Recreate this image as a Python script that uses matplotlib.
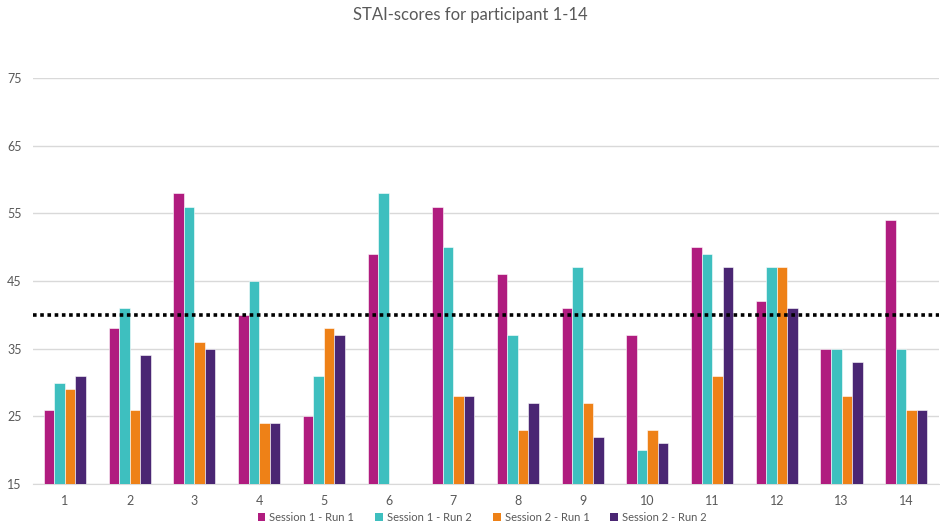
import numpy as np
import matplotlib
matplotlib.use("Agg")
import matplotlib.pyplot as plt
from matplotlib.patches import Patch

plt.rcParams['font.family'] = ['Lato', 'DejaVu Sans']

participants = [str(i) for i in range(1, 15)]
s1_run1 = [26, 38, 58, 40, 25, 49, 56, 46, 41, 37, 50, 42, 35, 54]
s1_run2 = [30, 41, 56, 45, 31, 58, 50, 37, 47, 20, 49, 47, 35, 35]
s2_run1 = [29, 26, 36, 24, 38, np.nan, 28, 23, 27, 23, 31, 47, 28, 26]
s2_run2 = [31, 34, 35, 24, 37, np.nan, 28, 27, 22, 21, 47, 41, 33, 26]
series_names = ["Session 1 - Run 1", "Session 1 - Run 2",
                "Session 2 - Run 1", "Session 2 - Run 2"]
threshold = 40
y_ticks = [15, 25, 35, 45, 55, 65, 75]

colors = ["#B01C7F", "#3EBFBF", "#EE8117", "#4A2673"]
text_gray = "#595959"

fig = plt.figure(figsize=(9.4, 5.26), dpi=100)
ax = fig.add_axes([0.0347, 0.0798, 0.9638, 0.7719])

x = np.arange(len(participants))
bar_w = 0.1625
series = [s1_run1, s1_run2, s2_run1, s2_run2]
for i, (vals, c) in enumerate(zip(series, colors)):
    v = np.array(vals, dtype=float)
    ax.bar(x + (i - 1.5) * bar_w, v - 15, bottom=15, width=bar_w,
           color=c, edgecolor="white", linewidth=0.4, zorder=3)

ax.axhline(threshold, color="black", linestyle=(0, (1, 1)), linewidth=2.6, zorder=4)

ax.set_xlim(-0.5, len(participants) - 0.5)
ax.set_ylim(15, 75)
ax.set_yticks(y_ticks)
ax.set_xticks(x)
ax.set_xticklabels(participants)
ax.yaxis.grid(True, color="#D9D9D9", linewidth=1, zorder=0)
ax.set_axisbelow(True)
for s in ["top", "right", "left"]:
    ax.spines[s].set_visible(False)
ax.spines["bottom"].set_color("#D9D9D9")
ax.tick_params(axis="both", length=0, colors=text_gray, labelsize=9)
ax.tick_params(axis="x", pad=8)
ax.tick_params(axis="y", pad=8)

fig.text(0.5, 0.972, "STAI-scores for participant 1-14", ha="center", va="center",
         fontsize=12, color=text_gray)

handles = [Patch(facecolor=c, edgecolor="none") for c in colors]
fig.legend(handles, series_names, loc="center", bbox_to_anchor=(0.513, 0.017),
           ncol=4, frameon=False, fontsize=8, handlelength=0.7, handleheight=0.7,
           handletextpad=0.35, columnspacing=1.9, labelcolor=text_gray)

fig.savefig("out.png", dpi=100)
